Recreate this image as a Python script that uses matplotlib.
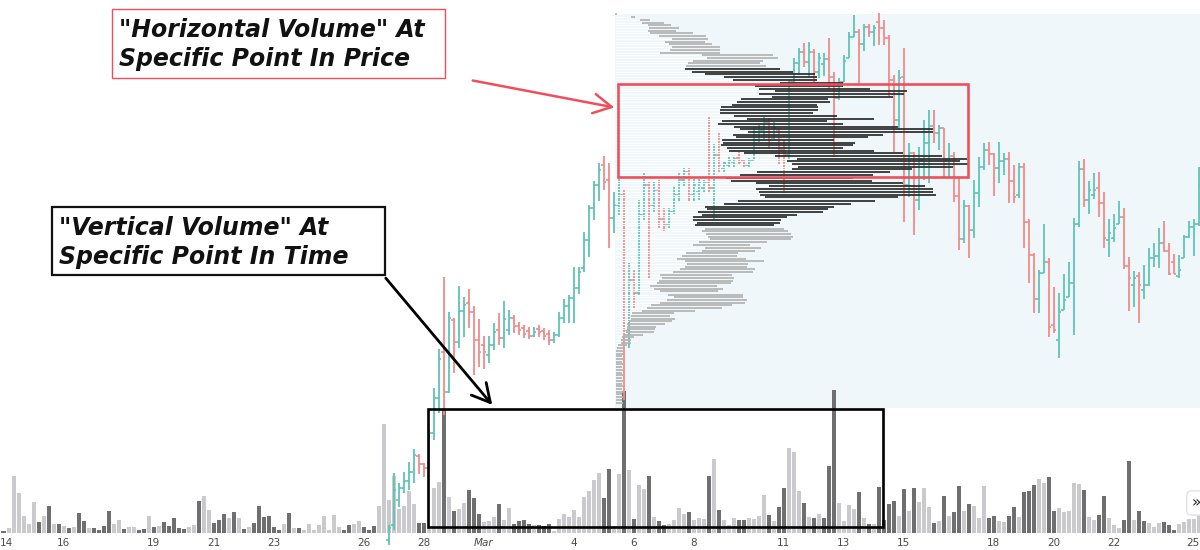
import matplotlib
matplotlib.use('Agg')
import matplotlib.pyplot as plt
import numpy as np
from matplotlib.patches import Rectangle

# 4h bars from 14 Feb to 25 Mar, x axis = bar number
day_labels = ['14', '16', '19', '21', '23', '26', '28', 'Mar', '4', '6', '8', '11',
              '13', '15', '18', '20', '22', '25']
day_bars = [0, 12, 30, 42, 54, 72, 84, 96, 114, 126, 138, 156, 168, 180, 198, 210, 222, 240]

# volume per bar
volume = [2.5, 5, 57, 40, 17, 9, 31, 11, 17, 27, 9, 9, 7, 5, 6, 20, 12, 5, 5, 3,
          7, 22, 9, 13, 4, 6, 6, 3, 4, 17, 6, 7, 11, 7, 15, 5, 4, 6, 8, 32,
          37, 23, 10, 13, 19, 15, 21, 15, 4, 6, 10, 27, 16, 17, 6, 3, 9, 20, 5, 5,
          3, 9, 3, 8, 17, 3, 18, 6, 3, 8, 9, 12, 6, 3, 7, 27, 109, 33, 57, 24,
          27, 42, 29, 10, 10, 5, 45, 51, 123, 36, 22, 24, 30, 43, 35, 19, 11, 12, 16, 29,
          13, 25, 9, 12, 13, 9, 8, 8, 7, 9, 2, 14, 19, 16, 23, 16, 36, 42, 53, 60,
          35, 64, 7, 59, 142, 63, 14, 48, 44, 57, 16, 12, 8, 9, 13, 25, 19, 21, 13, 15,
          14, 57, 74, 23, 13, 8, 15, 13, 13, 15, 14, 17, 38, 18, 12, 26, 45, 85, 81, 42,
          30, 16, 15, 19, 15, 67, 143, 30, 12, 28, 24, 41, 15, 9, 9, 46, 13, 29, 32, 17,
          44, 22, 45, 31, 45, 26, 10, 12, 37, 17, 21, 47, 22, 29, 27, 15, 47, 15, 17, 12,
          11, 17, 26, 16, 41, 42, 48, 54, 50, 56, 22, 25, 21, 22, 50, 49, 43, 16, 13, 18,
          37, 15, 8, 5, 13, 72, 13, 22, 12, 10, 6, 10, 11, 8, 3, 9, 11, 14, 14, 22]
# d = dark bar, l = light bar
vol_shade = ("dlllllldldldldlddldd" "ddlldllddldldddddlld" "lldddldldlddddddldld"
             "llllllllddlldddlllll" "lllddllldldlldddllld" "llddddldddllllllllll"
             "ddlldldlldlddlllldll" "ldldlllddlllldlddlll" "dldldddlllldldlddddl"
             "dldllldldlddldlllddl" "lddldddllddllllldlld" "dlllddlddllldddlllll")

# OHLC, first visible price bar is bar 77
first_bar = 77
opens = [20, 35, 60, 72, 79, 88, 104, 96, 92, 127, 162, 208, 168, 240, 218, 249, 257, 248, 220, 215,
         205, 215, 230, 222, 230, 242, 234, 232, 229, 224, 231, 229, 226, 220, 225, 242, 254, 262, 272, 292,
         320, 352, 375, 395, 380, 342, 355, 365, 230, 280, 267, 345, 375, 355, 370, 341, 335, 348, 365, 380,
         388, 365, 368, 372, 378, 372, 405, 392, 395, 398, 402, 399, 395, 400, 420, 430, 438, 422, 430, 410,
         405, 478, 497, 508, 498, 508, 488, 496, 501, 483, 462, 478, 502, 523, 528, 516, 533, 528, 538, 532,
         522, 480, 440, 483, 375, 407, 360, 400, 417, 434, 427, 432, 400, 404, 364, 321, 354, 330, 367, 393,
         410, 406, 392, 399, 401, 379, 365, 393, 338, 305, 261, 287, 298, 235, 220, 250, 263, 277, 336, 391,
         360, 365, 372, 357, 320, 322, 336, 343, 294, 275, 284, 270, 275, 302, 304, 317, 309, 298, 284, 302,
         323, 333, 336]
highs = [35, 87, 77, 88, 98, 111, 106, 97, 130, 172, 211, 283, 248, 242, 274, 263, 271, 254, 241, 224,
         224, 237, 247, 259, 250, 245, 238, 235, 233, 233, 235, 232, 230, 228, 248, 261, 265, 293, 293, 328,
         355, 379, 397, 404, 397, 368, 382, 370, 297, 290, 360, 387, 378, 378, 380, 352, 352, 373, 387, 392,
         392, 382, 382, 380, 443, 417, 428, 398, 403, 403, 408, 400, 402, 433, 435, 443, 442, 438, 432, 420,
         480, 502, 512, 517, 518, 511, 507, 507, 522, 488, 482, 505, 528, 545, 531, 536, 536, 535, 547, 540,
         525, 485, 490, 512, 417, 408, 413, 440, 450, 450, 435, 432, 417, 408, 382, 360, 355, 380, 403, 417,
         418, 407, 418, 407, 408, 395, 397, 397, 341, 307, 290, 336, 302, 273, 267, 286, 298, 342, 399, 401,
         379, 387, 388, 368, 341, 346, 359, 352, 303, 289, 288, 295, 312, 317, 332, 339, 317, 306, 305, 325,
         339, 341, 393]
lows = [15, 30, 53, 67, 70, 77, 86, 83, 90, 120, 147, 145, 167, 187, 212, 223, 232, 185, 193, 191,
        197, 210, 215, 212, 225, 227, 225, 222, 221, 223, 223, 220, 215, 217, 223, 237, 237, 237, 266, 288,
        303, 340, 359, 370, 312, 327, 345, 160, 212, 252, 265, 340, 282, 348, 332, 328, 332, 346, 358, 373,
        358, 358, 360, 367, 367, 340, 387, 387, 393, 393, 395, 393, 393, 400, 418, 420, 412, 420, 395, 367,
        400, 475, 485, 493, 483, 477, 482, 484, 471, 403, 460, 478, 502, 523, 475, 509, 523, 514, 515, 515,
        463, 408, 430, 338, 363, 325, 350, 380, 377, 417, 410, 383, 382, 358, 310, 317, 302, 322, 353, 390,
        395, 364, 377, 385, 357, 357, 362, 312, 277, 247, 247, 287, 223, 227, 202, 250, 263, 225, 333, 353,
        346, 361, 343, 312, 303, 318, 336, 291, 249, 253, 237, 261, 274, 293, 292, 308, 285, 286, 282, 302,
        322, 304, 334]
closes = [32, 70, 72, 79, 88, 105, 96, 92, 127, 162, 201, 168, 242, 218, 249, 255, 248, 220, 208, 208,
          215, 228, 222, 241, 242, 234, 230, 226, 224, 228, 228, 224, 220, 225, 242, 254, 262, 272, 288, 320,
          352, 375, 390, 378, 342, 355, 365, 230, 280, 267, 345, 375, 355, 370, 341, 335, 348, 365, 380, 388,
          365, 375, 378, 378, 372, 405, 395, 397, 400, 401, 398, 395, 400, 420, 430, 438, 420, 432, 410, 405,
          478, 497, 508, 498, 508, 488, 502, 501, 483, 462, 478, 499, 523, 528, 516, 533, 528, 532, 532, 522,
          480, 440, 482, 375, 407, 360, 400, 417, 434, 427, 432, 400, 404, 364, 321, 354, 330, 367, 393, 410,
          406, 392, 399, 401, 379, 363, 393, 338, 305, 261, 287, 298, 233, 230, 248, 260, 277, 336, 391, 360,
          370, 370, 357, 322, 327, 332, 343, 294, 282, 282, 275, 275, 302, 304, 317, 309, 286, 286, 290, 323,
          333, 336, 374]

# horizontal volume rows: price level, first bar, last bar
prof_price = [546, 543, 540, 537, 535, 532, 529, 527, 524, 521, 518, 516, 513, 510, 507, 505, 502, 499,
              497, 494, 491, 488, 486, 483, 480, 477, 474, 471, 469, 466, 463, 461, 458, 455, 453, 450,
              447, 444, 441, 439, 436, 433, 431, 428, 425, 423, 420, 417, 415, 412, 409, 407, 404, 401,
              399, 396, 393, 391, 388, 385, 382, 379, 377, 374, 371, 368, 365, 363, 359, 356, 353, 351,
              348, 345, 343, 340, 337, 335, 331, 329, 326, 323, 321, 318, 315, 312, 309, 307, 304, 301,
              299, 296, 293, 291, 288, 285, 282, 279, 277, 274, 271, 269, 265, 263, 260, 257, 255, 252,
              249, 247, 244, 241, 239, 236, 233, 231, 228, 225, 223, 220, 217, 215, 212, 209, 206, 204,
              201, 198, 196, 193, 190, 187, 185, 182, 179, 176, 174, 171, 168, 166, 163, 160, 157]
prof_start = [122.3, 125.5, 127.3, 127.7, 128.9, 129.1, 128.9, 129.3, 131.1, 133.7, 132.3, 133.1, 133.7,
              133.3, 131.3, 139.7, 140.7, 137.9, 136.9, 136.5, 136.3, 137.7, 140.3, 144.1, 145.9, 155.3,
              150.3, 151.1, 154.3, 151.1, 153.7, 147.5, 146.7, 145.7, 143.5, 143.3, 143.3, 146.1, 148.7,
              143.7, 142.9, 146.1, 147.3, 148.9, 145.9, 146.5, 143.7, 143.9, 143.5, 144.7, 145.1, 148.1,
              154.3, 158.7, 156.7, 157.7, 158.9, 157.7, 150.7, 147.3, 144.5, 145.5, 150.5, 153.1, 150.5,
              151.1, 151.3, 152.3, 146.9, 144.1, 140.3, 140.7, 138.9, 139.7, 137.9, 137.9, 138.7, 138.3,
              140.3, 139.7, 140.5, 140.9, 141.3, 139.1, 137.9, 140.3, 139.7, 136.5, 135.7, 134.7, 136.3,
              136.7, 136.3, 135.3, 133.9, 131.3, 131.7, 131.1, 130.7, 129.3, 130.1, 131.3, 132.9, 134.1,
              132.7, 131.3, 129.5, 128.7, 127.7, 125.7, 125.5, 125.5, 125.1, 124.7, 124.7, 124.7, 124.5,
              123.9, 123.7, 123.5, 123.5, 122.9, 122.7, 122.5, 122.5, 122.5, 122.5, 122.5, 122.5, 122.5,
              122.5, 122.5, 122.5, 122.5, 122.5, 122.5, 122.5, 122.5, 122.5, 122.5, 122.5, 122.5, 122.5]
prof_end = [122.7, 126.3, 129.3, 132.1, 133.5, 135.1, 134.5, 137.9, 140.5, 140.9, 140.3, 141.7, 143.3,
            143.3, 143.3, 153.9, 154.9, 151.9, 151.3, 152.5, 155.3, 157.9, 162.3, 162.7, 162.7, 167.9,
            167.9, 173.3, 180.7, 180.1, 177.9, 164.9, 165.3, 162.7, 162.9, 162.9, 161.9, 166.7, 174.1,
            164.7, 167.9, 178.9, 185.9, 185.9, 175.9, 172.9, 166.1, 170.3, 169.9, 167.9, 174.1, 179.9,
            187.7, 192.7, 191.3, 192.9, 189.9, 181.7, 177.3, 173.9, 169.9, 173.7, 179.9, 184.3, 185.9,
            185.9, 186.5, 178.9, 174.3, 169.5, 166.1, 164.9, 163.9, 158.7, 156.7, 155.5, 155.3, 154.1,
            156.1, 156.9, 157.5, 157.9, 157.5, 152.7, 149.3, 151.5, 150.3, 146.9, 146.7, 148.5, 152.1,
            148.9, 148.7, 150.3, 149.9, 145.7, 146.1, 145.9, 145.5, 142.7, 143.9, 142.9, 147.9, 147.9,
            148.7, 148.3, 145.7, 143.7, 138.3, 134.1, 133.3, 134.3, 133.7, 132.3, 130.5, 130.3, 130.1,
            127.9, 126.1, 125.5, 125.5, 124.7, 124.1, 123.9, 123.9, 123.7, 123.9, 123.7, 123.9, 123.7,
            123.9, 123.7, 123.9, 123.7, 123.9, 123.7, 123.9, 123.7, 123.9, 123.7, 123.9, 123.7, 123.9]
va_high, va_low = 491, 335          # value area
range_left = 122.3                  # start of the profiled range
range_top, range_bottom = 546, 152

UP, DOWN = '#5fc3b7', '#f08a8a'
DARK_VOL, LIGHT_VOL = '#6f6f6f', '#c9c9ce'

fig = plt.figure(figsize=(12, 5.5), dpi=100)
fig.patch.set_facecolor('white')
ax = fig.add_axes([0, 0, 1, 1])
ax2 = ax.twinx()
ax.set_zorder(2)
ax2.set_zorder(1)
ax.set_axis_off()
ax2.set_axis_off()

# shaded range and volume bars (bottom layer)
ax2.add_patch(Rectangle((range_left, range_bottom), 130, range_top - range_bottom,
                        transform=ax.transData, facecolor='#f0f7fb', edgecolor='none', zorder=0))
idx = np.arange(len(volume))
ax2.bar(idx, volume, width=0.8,
        color=[DARK_VOL if s == 'd' else LIGHT_VOL for s in vol_shade], zorder=1)
ax2.set_ylim(-17, 533)

# OHLC bars
xs = np.arange(first_bar, first_bar + len(opens))
cols = [UP if c >= o else DOWN for o, c in zip(opens, closes)]
ax.vlines(xs, lows, highs, colors=cols, lw=1.3, zorder=2)
ax.hlines(opens, xs - 0.45, xs, colors=cols, lw=1.2, zorder=2)
ax.hlines(closes, xs, xs + 0.45, colors=cols, lw=1.2, zorder=2)

# row ghosts that cut the bars underneath, then the profile rows
ax.hlines(prof_price, range_left, prof_start, colors='white', lw=0.8, alpha=0.9, zorder=3)
prof_price = np.array(prof_price)
inside = (prof_price <= va_high) & (prof_price >= va_low)
ax.barh(prof_price, np.array(prof_end) - np.array(prof_start), left=prof_start, height=2.5,
        color=np.where(inside, '#2c2c2c', '#b3b3b3'), alpha=0.88, zorder=4)
ax.set_xlim(-0.7, 239.3)
ax.set_ylim(10, 560)

# date labels (first and last nudged so they stay inside the frame)
x_lo, x_hi = ax.get_xlim()
for b, lbl in zip(day_bars, day_labels):
    ha = 'center'
    if b > x_hi - 1:
        b, ha = x_hi - 0.1, 'right'
    ax.text(max(b, 0.6), 7 / 550, lbl, transform=ax.get_xaxis_transform(), ha=ha,
            va='center', fontsize=7.5, color='#4a4a4a',
            style='italic' if lbl == 'Mar' else 'normal', clip_on=False)


def fxy(x, y):
    return (x / 1200, 1 - y / 550)


def box(x0, y0, x1, y1, color, lw):
    fig.add_artist(Rectangle(fxy(x0, y1), (x1 - x0) / 1200, (y1 - y0) / 550, fill=False,
                             edgecolor=color, lw=lw, transform=fig.transFigure, zorder=10))


RED = '#ef4f5a'
box(618, 84, 968, 177, RED, 1.9)
box(428, 409, 883, 527, 'black', 1.9)
box(112, 9, 445, 78, RED, 1.0)
box(52, 207, 385, 275, '#111111', 1.6)

font = dict(fontsize=17, fontstyle='italic', fontweight='bold', color='#111111', ha='left',
            va='baseline')
fig.text(*fxy(119, 37), '"Horizontal Volume" At', **font)
fig.text(*fxy(119, 66), 'Specific Point In Price', **font)
fig.text(*fxy(59, 235), '"Vertical Volume" At', **font)
fig.text(*fxy(59, 264), 'Specific Point In Time', **font)

ax.annotate('', xy=fxy(617, 108), xytext=fxy(470, 80), xycoords='figure fraction',
            arrowprops=dict(arrowstyle='->,head_length=0.65,head_width=0.35', mutation_scale=20,
                            color=RED, lw=1.8))
ax.annotate('', xy=fxy(494, 407), xytext=fxy(384, 276), xycoords='figure fraction',
            arrowprops=dict(arrowstyle='->,head_length=0.65,head_width=0.35', mutation_scale=20,
                            color='black', lw=2))

fig.text(*fxy(1196, 503), '»', ha='center', va='center', fontsize=11, color='#222222',
         bbox=dict(boxstyle='round,pad=0.3', facecolor='white', edgecolor='#e3e3e3'))

fig.savefig('out.png', dpi=100)
